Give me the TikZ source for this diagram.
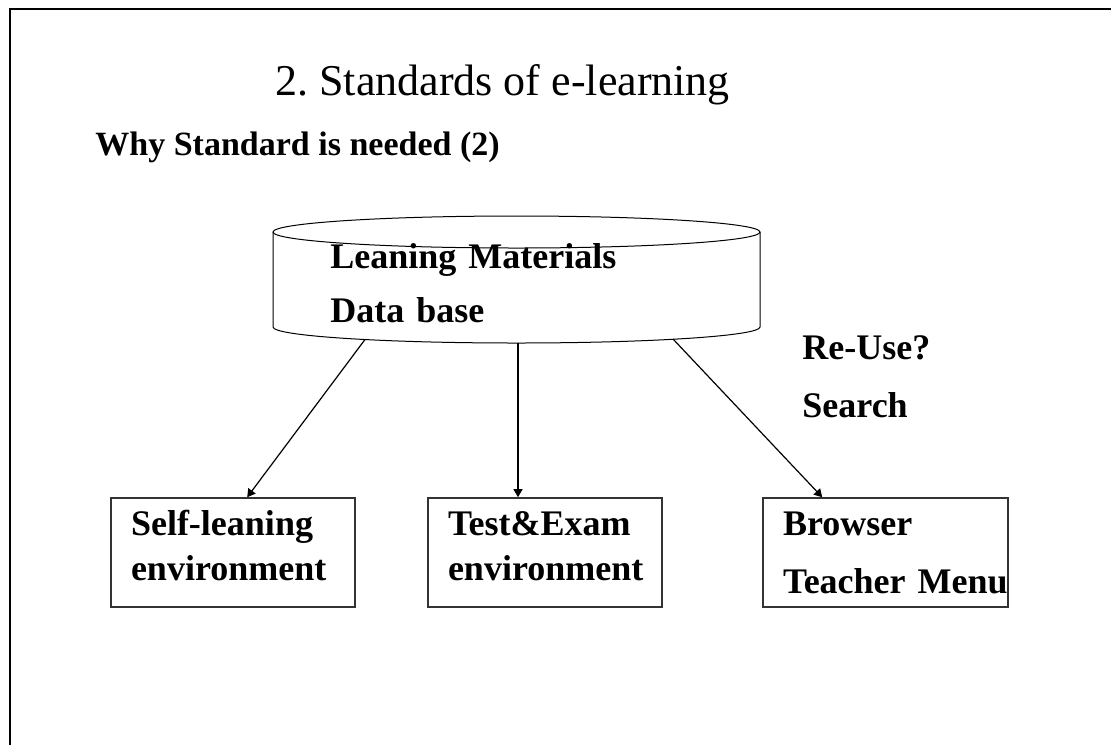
\documentclass[tikz,border=0pt]{standalone}
\usepackage{fontspec}
\setmainfont{Liberation Serif}
\usetikzlibrary{arrows.meta}

\begin{document}
\begin{tikzpicture}[x=0.5pt,y=-0.5pt,
    >={Triangle[length=4pt,width=4.5pt]},
    lbl/.style={font=\bfseries\fontsize{18}{22.5}\selectfont,inner sep=0pt,anchor=base west,align=left},
    envbox/.style={draw=black!80,line width=0.8pt,inner xsep=10pt,inner ysep=0pt,minimum height=54.5pt,
      align=left,font=\bfseries\fontsize{18}{22.5}\selectfont},
    arr/.style={line width=0.6pt}]
  \useasboundingbox (0,0) rectangle (1111,745);
  \draw[line width=1pt] (10,745) -- (10,9) -- (1111,9);

  \node[inner sep=0pt,anchor=base west,font=\fontsize{22}{26}\selectfont](title) at (275,95) {2.\ Standards of e-learning};
  \node[lbl,font=\bfseries\fontsize{17}{20}\selectfont](why) at (95,155) {Why Standard is needed (2)};

  % data base
  \draw[line width=0.5pt] (516.5,232) ellipse [x radius=121.75pt,y radius=8pt];
  \draw[line width=0.5pt] (273,232) -- (273,327) arc[start angle=180,end angle=360,x radius=121.75pt,y radius=8pt] -- (760,232);
  \node[lbl,text width=150pt](db) at (330,268) {Leaning Materials\\[4.5pt]Data base};
  \coordinate (dbl) at (365,339.5);
  \coordinate (dbm) at (518,343);
  \coordinate (dbr) at (673,339);

  \node[lbl,text width=90pt](reuse) at (802,359) {Re-Use?\\[6.5pt]Search};

  % environments
  \node[envbox,text width=102pt](self) at (233,552.5) {Self-leaning\\environment\strut};
  \node[envbox,text width=97pt](test) at (545,552.5) {Test\&Exam\\environment\strut};
  \node[envbox,text width=102.5pt](browser) at (885.5,552.5) {Browser\\[6.5pt]Teacher~Menu};

  \path[->,arr] (dbl) edge ([xshift=68.5pt]self.north west);
  \path[->,arr] (dbm) edge (dbm |- test.north);
  \path[->,arr] (dbr) edge ([xshift=30pt]browser.north west);
\end{tikzpicture}
\end{document}
